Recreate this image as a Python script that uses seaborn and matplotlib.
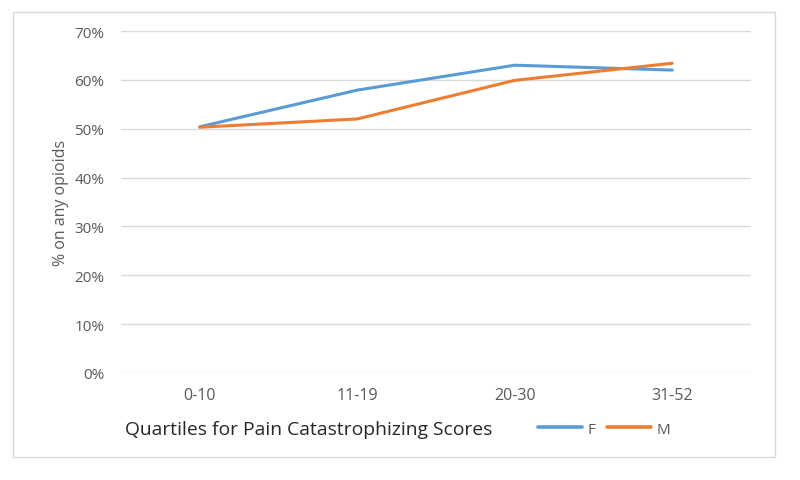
import matplotlib
matplotlib.use("Agg")
import matplotlib.pyplot as plt
from matplotlib.patches import Rectangle
from matplotlib.ticker import PercentFormatter
import seaborn as sns
import pandas as pd

categories = ["0-10", "11-19", "20-30", "31-52"]
female = [0.504, 0.579, 0.630, 0.620]
male = [0.503, 0.520, 0.599, 0.634]
series_names = ["F", "M"]
colors = ["#5B9BD5", "#ED7D31"]

df = pd.DataFrame({
    "quartile": categories * 2,
    "value": female + male,
    "sex": [series_names[0]] * len(categories) + [series_names[1]] * len(categories),
})

sns.set_theme(style="white")
plt.rcParams["font.family"] = ["Open Sans", "DejaVu Sans"]

fig = plt.figure(figsize=(8, 4.81), dpi=100)
ax = fig.add_axes([121 / 800, 107 / 481, 630 / 800, 342 / 481])

sns.lineplot(data=df, x="quartile", y="value", hue="sex", palette=colors,
             linewidth=2.2, ax=ax, sort=False, legend=False)

ax.set_xlim(-0.5, 3.5)
ax.set_ylim(0, 0.7)
ax.set_yticks([i / 10 for i in range(8)])
ax.yaxis.set_major_formatter(PercentFormatter(1.0, decimals=0))
ax.grid(axis="y", color="#D9D9D9", linewidth=1.0)
ax.set_axisbelow(True)
for s in ax.spines.values():
    s.set_visible(False)
ax.tick_params(axis="y", length=0, labelsize=11, colors="#595959", pad=12)
ax.tick_params(axis="x", length=0, labelsize=11.5, colors="#595959", pad=10)
ax.set_xlabel("")
ax.set_ylabel("% on any opioids", color="#595959", fontsize=11.5, labelpad=4)

title = fig.text(125 / 800, 1 - 430 / 481, "Quartiles for Pain Catastrophizing Scores",
                 fontsize=13, color="#262626", va="center", ha="left")

# fit title width to the reference's (~365 px)
fig.canvas.draw()
w = title.get_window_extent().width
title.set_fontsize(13 * 365 / w)

handles = [plt.Line2D([], [], color=c, linewidth=2.6) for c in colors]
fig.legend(handles, series_names, loc="center left",
           bbox_to_anchor=(538 / 800, 1 - 430 / 481), ncol=2, frameon=False,
           fontsize=11, labelcolor="#595959", handlelength=2.9,
           handletextpad=0.35, columnspacing=0.75, borderaxespad=0, borderpad=0)

fig.patches.append(Rectangle((13 / 800, 1 - 458 / 481), 762 / 800, 445 / 481,
                             transform=fig.transFigure, fill=False,
                             edgecolor="#D9D9D9", linewidth=1.0))

fig.savefig("out.png", dpi=100, facecolor="white")
